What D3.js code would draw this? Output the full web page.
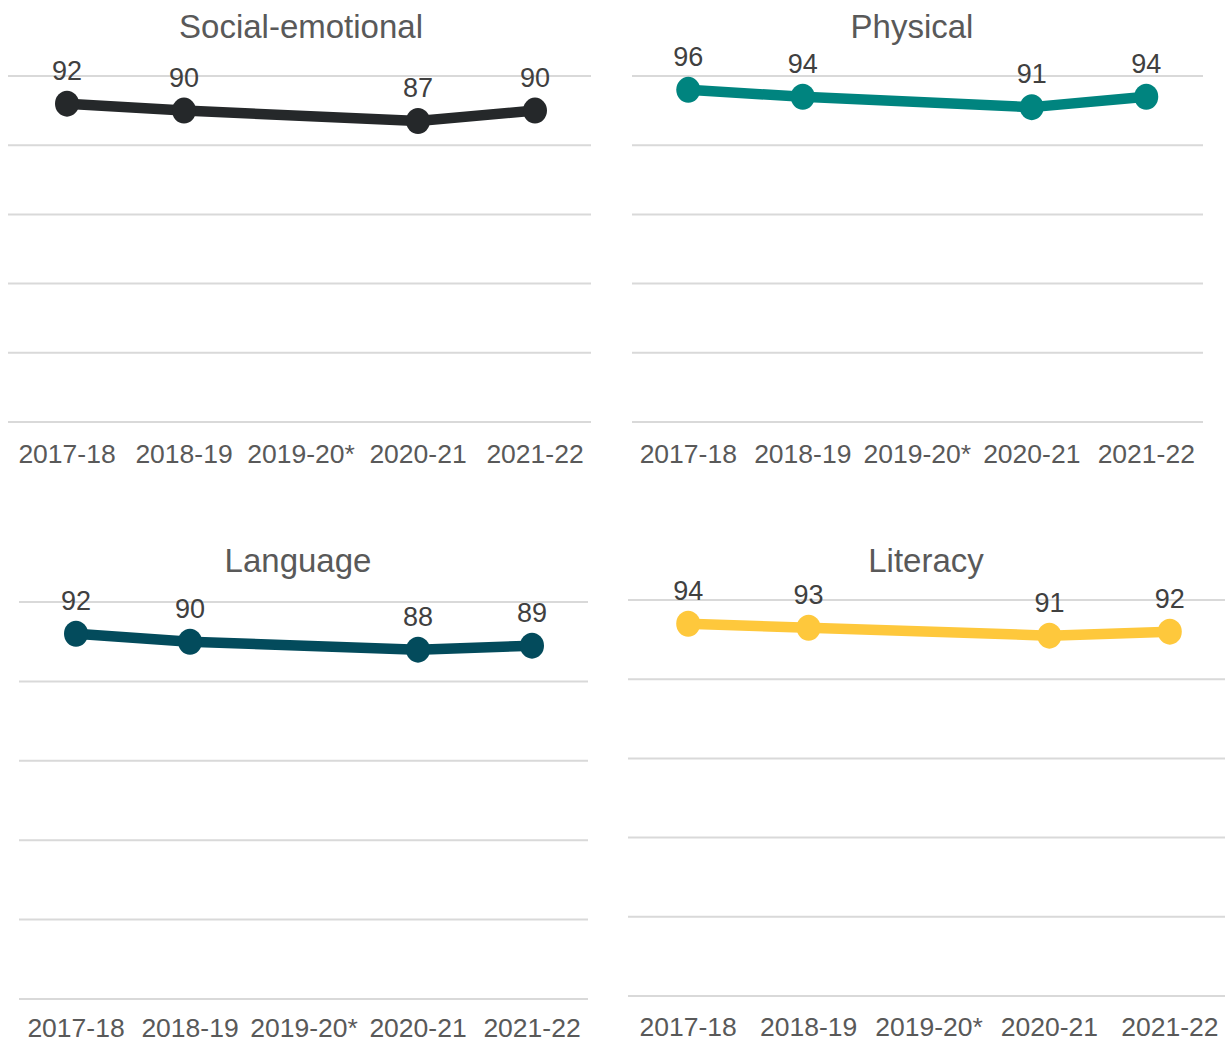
<!DOCTYPE html>
<html>
<head>
<meta charset="utf-8">
<script src="https://cdn.jsdelivr.net/npm/d3@7"></script>
<style>
  html, body { margin: 0; padding: 0; background: #fff; }
  svg { display: block; }
  text { font-family: "Liberation Sans", Arial, sans-serif; }
</style>
</head>
<body>
<svg id="chart" width="1225" height="1043"></svg>
<script>
// ---- data ----
const years = ["2017-18", "2018-19", "2019-20*", "2020-21", "2021-22"];
const socialEmotional = [92, 90, null, 87, 90];
const physical = [96, 94, null, 91, 94];
const language = [92, 90, null, 88, 89];
const literacy = [94, 93, null, 91, 92];
const yTicks = [0, 20, 40, 60, 80, 100];
const panelTitles = ["Social-emotional", "Physical", "Language", "Literacy"];

// ---- layout (positions/styles only) ----
const panels = [
  { title: panelTitles[0], values: socialEmotional, color: "#25282a",
    x0: 8.5, x1: 593.5, g0: 8, g1: 591, yTop: 76, yBot: 422, titleX: 301, titleY: 38, axisY: 463 },
  { title: panelTitles[1], values: physical, color: "#00847f",
    x0: 631, x1: 1203.5, g0: 632, g1: 1203, yTop: 76, yBot: 422, titleX: 912, titleY: 38, axisY: 463 },
  { title: panelTitles[2], values: language, color: "#034b5c",
    x0: 19, x1: 589, g0: 19, g1: 588, yTop: 602, yBot: 999, titleX: 298, titleY: 572, axisY: 1036.5 },
  { title: panelTitles[3], values: literacy, color: "#fec83c",
    x0: 628, x1: 1230, g0: 628, g1: 1225, yTop: 600, yBot: 996, titleX: 926, titleY: 572, axisY: 1035.5 }
];

const svg = d3.select("#chart");

panels.forEach(p => {
  const g = svg.append("g");
  const x = d3.scaleBand().domain(years).range([p.x0, p.x1]);
  const y = d3.scaleLinear().domain([0, 100]).range([p.yBot, p.yTop]);

  // gridlines
  g.selectAll("line.grid").data(yTicks).join("line")
    .attr("class", "grid")
    .attr("x1", p.g0).attr("x2", p.g1)
    .attr("y1", d => y(d)).attr("y2", d => y(d))
    .attr("stroke", "#d9d9d9").attr("stroke-width", 2);

  // x axis labels
  const axis = d3.axisBottom(x).tickSize(0).tickPadding(0);
  const ag = g.append("g").attr("transform", `translate(0,${p.axisY})`).call(axis);
  ag.select(".domain").remove();
  ag.selectAll("text")
    .attr("dy", 0).attr("y", 0)
    .attr("fill", "#595959")
    .style("font-size", "26.5px")
    .style("font-family", "'Liberation Sans', Arial, sans-serif");

  // title
  g.append("text")
    .attr("x", p.titleX).attr("y", p.titleY)
    .attr("text-anchor", "middle")
    .attr("fill", "#595959")
    .style("font-size", "33px")
    .text(p.title);

  const pts = years.map((yr, i) => ({ yr, v: p.values[i] })).filter(d => d.v != null);
  const cx = d => x(d.yr) + x.bandwidth() / 2;

  const line = d3.line().x(cx).y(d => y(d.v));
  g.append("path").datum(pts)
    .attr("d", line)
    .attr("fill", "none")
    .attr("stroke", p.color)
    .attr("stroke-width", 10.5)
    .attr("stroke-linejoin", "round");

  g.selectAll("ellipse.pt").data(pts).join("ellipse")
    .attr("class", "pt")
    .attr("cx", cx).attr("cy", d => y(d.v))
    .attr("rx", 12).attr("ry", 13)
    .attr("fill", p.color);

  g.selectAll("text.lbl").data(pts).join("text")
    .attr("class", "lbl")
    .attr("x", cx).attr("y", d => y(d.v) - 24)
    .attr("text-anchor", "middle")
    .attr("fill", "#404040")
    .style("font-size", "27px")
    .text(d => d.v);
});
</script>
</body>
</html>
